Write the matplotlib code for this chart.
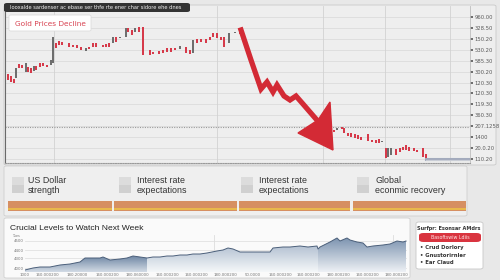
import numpy as np
import matplotlib
matplotlib.use("Agg")
import matplotlib.pyplot as plt
from matplotlib.patches import FancyBboxPatch, Rectangle, Polygon
from matplotlib.colors import LinearSegmentedColormap

# ---------------- data ----------------
# main chart, first segment of candles (session, open, close)
c1_t = [8, 11, 14, 16, 19, 22, 26, 28, 31, 34, 36, 40, 43, 47, 51, 53, 56, 59, 62, 69,
        73, 77, 81, 86, 89, 93, 96, 103, 106, 109, 113, 116, 120, 126, 128, 132, 135, 139, 143, 150,
        153, 159, 163, 167, 171, 175, 180, 186, 190, 193, 197, 201, 206, 210, 213, 217, 221, 224, 229, 235, 240]
c1_open = [89, 87, 84, 85, 99, 98, 91, 96, 95, 92, 97, 100, 100, 98, 98, 100, 120, 122, 121, 120,
           118, 118, 116, 112, 116, 120, 120, 118, 119, 120, 120, 126, 125, 126, 135, 133, 131, 136, 136, 113,
           111, 112, 113, 115, 115, 115, 114, 116, 113, 110, 124, 124, 124, 126, 130, 130, 126, 126, 120, 130, 131]
c1_close = [83, 81, 80, 95, 95, 95, 100, 91, 90, 97, 93, 96, 97, 96, 103, 126, 115, 118, 118, 116,
            116, 115, 113, 115, 114, 116, 116, 116, 116, 116, 126, 121, 126, 135, 131, 128, 135, 131, 108, 108,
            109, 109, 110, 111, 111, 113, 117, 110, 109, 123, 120, 121, 120, 123, 126, 125, 123, 116, 130, 131, 129]
# second segment of candles
c2_t = [334, 337, 342, 344, 348, 351, 355, 358, 361, 368, 372, 376, 379, 382, 386, 388, 391,
        396, 400, 403, 406, 409, 414, 417, 423, 426]
c2_open = [33, 33, 36, 35, 30, 30, 29, 28, 26, 29, 23, 23, 24, 21, 15, 6, 8,
           14, 15, 16, 18, 16, 15, 13, 15, 9]
c2_close = [31, 35, 34, 30, 27, 26, 25, 24, 23, 22, 21, 20, 20, 22, 5, 15, 15,
            8, 11, 13, 13, 12, 12, 11, 6, 3]
# decline arrow path
arrow_t = [241, 251, 261, 267, 273, 277, 284, 290, 296, 303, 316]
arrow_v = [133, 103, 74, 81, 71, 78, 67, 63, 67, 59, 44]
head_t = [298, 333, 330, 318]
head_v = [30, 13, 61, 43]
# flat level after the decline
flat_t = [426, 470]
flat_v = [4.5, 4.5]
support_level = 36
right_ticks = list(np.linspace(4, 146, 14))
right_labels = ["110.20", "20.0.20", "1400", "207.1258", "360.30", "119.30", "120.30",
                "120.30", "300.20", "585.30", "530.20", "150.20", "328.50", "960.00"]
vgrid_main = [54, 217, 323, 385, 450]

# factor legend
factors = ["US Dollar\nstrength", "Interest rate\nexpectations",
           "Interest rate\nexpectations", "Global\neconmic recovery"]
factor_text_x = [28, 137, 259, 375]
factor_box_x = [12, 119, 241, 357]
bar_start = [8, 114, 239, 353]
bar_len = [104, 123, 111, 113]

# bottom "crucial levels" chart
lv_t = [25, 33, 40, 50, 60, 70, 80, 85, 90, 100, 103, 110, 120, 127, 133, 140, 147, 153, 160, 167,
        173, 180, 187, 193, 200, 207, 217, 223, 228, 233, 240, 250, 260, 270, 273, 283, 290, 300, 308,
        317, 318, 320, 330, 337, 340, 347, 350, 357, 363, 367, 373, 383, 390, 397, 403, 406]
lv_v = [2, 4, 5, 5, 7, 8, 10, 14, 14, 14, 15, 12, 13, 14, 16, 15, 14, 15, 15, 16,
        16, 17, 17, 18, 18, 19, 21, 22, 24, 23, 20, 20, 20, 20, 24, 25, 25, 26, 25,
        26, 23, 25, 30, 34, 31, 34, 32, 30, 29, 25, 26, 27, 28, 31, 30, 31]
lv_ticks = [4, 14, 22, 31]
lv_tick_labels = ["4000", "4300", "4400", "4500"]
lv_xticks = [25, 47, 77, 107, 137, 167, 196, 225, 253, 280, 308, 338, 367, 396]
lv_xlabels = ["1000", "160.000200", "180.20000", "160.000200", "180.060000", "160.000200",
              "160.000200", "180.000200", "50.0000", "160.000200", "160.000200", "180.000200",
              "160.000200", "180.000200"]
lv_vgrid = [214, 393]

RED = "#d63a4a"
ARROW = "#d32a35"
GRAY_C = "#6e6e6e"
SANS = ["Liberation Sans", "DejaVu Sans"]

W, H = 500, 280
fig = plt.figure(figsize=(5, 2.8), dpi=100)
fig.patch.set_facecolor("#e8e8e8")


def fr(x0, y0, x1, y1):
    return [x0 / W, 1 - y1 / H, (x1 - x0) / W, (y1 - y0) / H]


def fbox(x0, y0, x1, y1, fc, ec, pad=2.5, lw=0.6, z=-10):
    p = FancyBboxPatch((x0 / W, 1 - y1 / H), (x1 - x0) / W, (y1 - y0) / H,
                       boxstyle="round,pad=0,rounding_size=%f" % (pad / W),
                       transform=fig.transFigure, facecolor=fc, edgecolor=ec,
                       linewidth=lw, zorder=z)
    fig.patches.append(p)
    return p


# panels
fbox(4, 5, 496, 165, "#eeeeee", "#c9c9c9")
fbox(4, 166, 467, 216, "#efefef", "#cfcfcf")
fbox(4, 218, 410, 278, "#fafafa", "#d0d0d0")
fbox(416, 222, 483, 269, "#ffffff", "#c8c8c8", pad=3)

# ---------------- main chart ----------------
ax = fig.add_axes(fr(5, 6, 470, 163))
ax.set_facecolor("#eeeeee")
ax.set_xlim(5, 470)
ax.set_ylim(0, 157)
for yv in right_ticks:
    ax.axhline(yv, color="#dcdcdc", lw=0.6, zorder=0)
for xv in vgrid_main:
    ax.axvline(xv, color="#d2d2d2", lw=0.6, zorder=0)
ax.axhline(support_level, color="#9a9a9a", lw=0.8, ls=(0, (1, 1.2)), zorder=1)


def candles(t, o, c):
    t = np.array(t, float); o = np.array(o, float); c = np.array(c, float)
    up = c >= o
    lo = np.minimum(o, c); hi = np.maximum(o, c)
    h = np.maximum(hi - lo, 1.0)
    ax.bar(t[~up], h[~up], bottom=lo[~up], width=2.6, color=RED, zorder=3)
    ax.bar(t[up], h[up], bottom=lo[up], width=1.3, color=GRAY_C, zorder=3)


candles(c1_t, c1_open, c1_close)
candles(c2_t, c2_open, c2_close)

ax.plot(arrow_t, arrow_v, color=ARROW, lw=3.8, solid_joinstyle="miter", zorder=4)
ax.fill(head_t, head_v, color=ARROW, zorder=4)
ax.plot(flat_t, flat_v, color="#a3abbd", lw=2.2, zorder=3)
ax.plot(flat_t, [v - 1.5 for v in flat_v], color="#c9cdd6", lw=0.8, zorder=3)

ax.yaxis.tick_right()
ax.set_yticks(right_ticks)
ax.set_yticklabels(right_labels, fontsize=3.8, color="#5a5a5a")
ax.tick_params(axis="y", length=1.8, width=1.2, color="#555555", pad=1.2)
ax.set_xticks([])
ax.spines["top"].set_visible(False)
ax.spines["left"].set_color("#6a6a6a")
ax.spines["left"].set_linewidth(0.8)
ax.spines["right"].set_color("#bdbdbd")
ax.spines["right"].set_linewidth(0.6)
ax.spines["bottom"].set_color("#9a9a9a")
ax.spines["bottom"].set_linestyle((0, (1, 1.2)))
ax.spines["bottom"].set_linewidth(0.8)

# title bar
fbox(4, 3, 190, 12, "#333333", "none", pad=3, z=5)
fig.text(10 / W, 1 - 7.8 / H, "Iooxalde sardenser ac ebase ser thfe rte ener char sidore ehe dnes",
         fontsize=3.7, color="#f2f2f2", va="center", ha="left", zorder=6)
fbox(9, 15, 91, 31, "#ffffff", "#dddddd", pad=2, z=5)
fig.text(50 / W, 1 - 23.5 / H, "Gold Prices Decline", fontsize=5.3, color="#d84352",
         va="center", ha="center", zorder=6)

# ---------------- factor legend ----------------
for bx, tx, lab in zip(factor_box_x, factor_text_x, factors):
    fig.patches.append(Rectangle((bx / W, 1 - 185 / H), 12 / W, 8 / H, transform=fig.transFigure,
                                 facecolor="#dcdcdc", edgecolor="none"))
    fig.patches.append(Rectangle((bx / W, 1 - 193 / H), 12 / W, 8 / H, transform=fig.transFigure,
                                 facecolor="#d0d0d0", edgecolor="none"))
    fig.text(tx / W, 1 - 185.5 / H, lab, fontsize=6.4, color="#333333", va="center",
             ha="left", linespacing=1.05, family=SANS)

axb = fig.add_axes(fr(0, 201, 500, 211))
axb.set_xlim(0, 500)
axb.set_ylim(0, 1)
axb.axis("off")
axb.barh([0.5] * 4, bar_len, left=bar_start, height=1.0, color="#d68f62")
axb.barh([0.22] * 4, bar_len, left=bar_start, height=0.14, color="#e8b84c")

# ---------------- crucial levels chart ----------------
fig.text(10 / W, 1 - 228.5 / H, "Crucial Levels to Watch Next Week", fontsize=6.1,
         color="#222222", va="center", ha="left", family=SANS)
fig.text(12 / W, 1 - 236 / H, "Tues", fontsize=2.5, color="#777777", va="center")

ax2 = fig.add_axes(fr(25, 235, 407, 272))
ax2.set_facecolor("#fafafa")
for yv in lv_ticks:
    ax2.axhline(yv, color="#e2e2e2", lw=0.6, zorder=0)
for xv in lv_vgrid:
    ax2.axvline(xv, color="#dddddd", lw=0.6, zorder=0)

x = np.array(lv_t, float)
y = np.array(lv_v, float)


def grad_fill(x0, x1, ctop, cbot):
    m = (x >= x0) & (x <= x1)
    xs, ys = x[m], y[m]
    verts = [(xs[0], 0)] + list(zip(xs, ys)) + [(xs[-1], 0)]
    poly = Polygon(verts, closed=True, facecolor="none", edgecolor="none")
    ax2.add_patch(poly)
    cmap = LinearSegmentedColormap.from_list("g", [cbot, ctop])
    grad = np.linspace(1, 0, 256).reshape(-1, 1)
    im = ax2.imshow(grad, extent=[x0, x1, 0, ys.max()], aspect="auto", cmap=cmap,
                    origin="upper", zorder=1)
    im.set_clip_path(poly)


grad_fill(25, 147, "#6f87a4", "#d3dbe5")
grad_fill(147, 318, "#b5c3d3", "#f5f7f9")
grad_fill(318, 406, "#7d94b0", "#eef1f5")
ax2.plot(x, y, color="#4b5f7a", lw=0.7, zorder=2)
ax2.set_xlim(25, 407)
ax2.set_ylim(0, 37)
ax2.set_yticks(lv_ticks)
ax2.set_yticklabels(lv_tick_labels, fontsize=2.8, color="#777777")
ax2.set_xticks(lv_xticks)
ax2.set_xticklabels(lv_xlabels, fontsize=2.8, color="#777777")
ax2.tick_params(length=0, pad=1)
for s in ax2.spines.values():
    s.set_visible(False)

# ---------------- side box ----------------
fig.text(449 / W, 1 - 228.5 / H, "Surfpr: Esonsar AMdrs", fontsize=3.6, color="#333333",
         fontweight="bold", ha="center", va="center")
fbox(419, 233, 481, 242, "#d9343f", "none", pad=4.5, z=2)
fig.text(450 / W, 1 - 237.5 / H, "Basoftswiw Ldiis", fontsize=3.4, color="#ffe9ea",
         ha="center", va="center", zorder=3)
for i, lab in enumerate(["Crud Dorlory", "Gnustorirnler", "Ear Claud"]):
    fig.text(420 / W, 1 - (248 + 7.5 * i) / H, "\u2022 " + lab, fontsize=3.8,
             color="#333333", fontweight="bold", ha="left", va="center")

fig.savefig("out.png", dpi=100, facecolor=fig.get_facecolor())
